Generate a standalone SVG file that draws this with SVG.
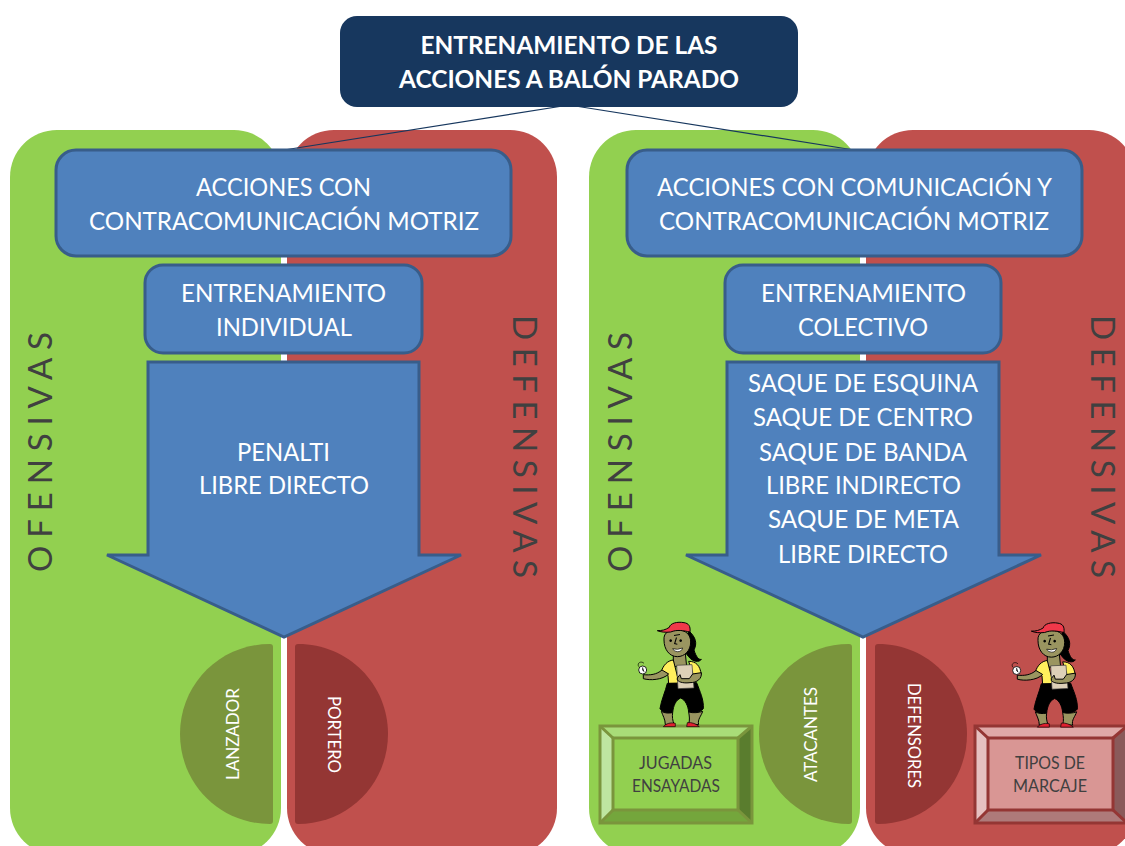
<svg xmlns="http://www.w3.org/2000/svg" xmlns:xlink="http://www.w3.org/1999/xlink" width="1125" height="846" viewBox="0 0 1125 846">
<style>
text{font-family:"Lato","Carlito","Open Sans",sans-serif;text-anchor:middle}
.w{fill:#fff;font-size:25.5px}
.b{fill:#fff;font-size:25.5px;font-weight:700}
.s{fill:#404040;font-size:16.5px}
.r{fill:#fff;font-size:16.5px}
.v{fill:#404040;font-size:33px}
.g{fill:#92D050}.d{fill:#C0504D}
.blue{fill:#4F81BD;stroke:#385D8A;stroke-width:3}
.hg{fill:#7A953C}.hr{fill:#943634}
.ol{stroke:#000;stroke-width:3;stroke-linejoin:round}
</style>
<defs>
<g id="fig">
<path class="ol" fill="#000" d="M296 92C318 112 322 130 312 150C318 170 326 180 334 178C328 188 308 186 296 170L280 150Z"/>
<path class="ol" fill="#9A9560" d="M250 160l36 0 4 40-40 0z"/>
<path class="ol" fill="#9A9560" d="M222 120C220 96 240 88 262 90C288 90 302 104 302 126C302 152 284 170 262 170C238 170 222 148 222 120Z"/>
<path fill="#000" d="M252 105l18-3v3l-18 3zM242 118a4 4 0 1 0 .1 0zM272 118a4 4 0 1 0 .1 0zM258 112l-6 20 10 2v-3l-6-1 5-17z"/>
<path fill="#fff" stroke="#000" stroke-width="2" d="M248 146q14 5 30-2q-4 12-16 11q-10 0-14-9z"/>
<path class="ol" fill="#F0384A" d="M202 92C216 92 226 90 238 82C240 70 262 64 282 68C296 70 302 78 300 96C280 92 262 88 242 96C226 98 212 96 202 92Z"/>
<path class="ol" fill="#FFEF5C" d="M214 214C220 196 232 182 250 180L268 252 236 252 234 226ZM296 184C318 184 330 196 334 224L312 232Z"/>
<path class="ol" fill="#000" d="M232 250L320 248C330 275 342 300 340 326C330 338 312 340 296 336C294 316 286 300 272 294C258 300 250 316 248 338C232 342 216 336 210 326C214 300 226 275 232 250Z"/>
<path class="ol" fill="#9A9560" d="M214 334C224 340 236 340 248 338C246 350 248 362 252 372L226 374C226 358 218 346 214 334ZM296 336C308 340 328 338 338 334C334 348 322 358 326 374L296 372C300 360 298 348 296 336Z"/>
<path fill="#E02030" stroke="#000" stroke-width="2" d="M220 380C226 372 242 366 256 370L256 380ZM290 380L292 368C304 366 320 372 328 380Z"/>
<path class="ol" fill="#9A9560" d="M160 224C180 226 200 224 216 210L236 222C218 240 180 242 160 236Z"/>
<path fill="#DDD0B8" stroke="#333" stroke-width="2" d="M260 196l46-2 6 70-48 2z"/>
<path class="ol" fill="#9A9560" d="M262 234l8-10 4 12 24 0 10-14 26-4C336 236 322 248 300 248C284 250 268 248 262 240Z"/>
<circle cx="158" cy="210" r="12" fill="#fff" stroke="#000" stroke-width="2.500"/>
<path fill="none" stroke="#000" stroke-width="2" d="M146 200c-6-12 8-18 16-10"/>
<path stroke="#000" stroke-width="2" d="M158 202v9l5 4"/>
</g>
</defs>
<g id="panel-izquierdo">
<rect class="g" x="10" y="130" width="271" height="725" rx="47"/>
<rect class="d" x="287" y="130" width="270" height="725" rx="47"/>
</g>
<g id="panel-derecho">
<rect class="g" x="589" y="130" width="271" height="725" rx="47"/>
<rect class="d" x="866" y="130" width="270" height="725" rx="47"/>
</g>
<g id="connectors" fill="none" stroke="#17375E" stroke-width="1.2">
<line x1="569" y1="105" x2="284" y2="150"/>
<line x1="569" y1="105" x2="854" y2="150"/>
</g>
<g id="titulo">
<rect x="340" y="16" width="458" height="91" rx="17" fill="#17375E"/>
<text class="b" x="569" y="54" textLength="297" lengthAdjust="spacingAndGlyphs">ENTRENAMIENTO DE LAS</text>
<text class="b" x="569" y="88" textLength="340" lengthAdjust="spacingAndGlyphs">ACCIONES A BALÓN PARADO</text>
</g>
<g id="ofensivas-1"><text class="v" transform="translate(52 452) rotate(-90)" textLength="240">OFENSIVAS</text></g>
<g id="defensivas-1"><text class="v" transform="translate(513 446.500) rotate(90)" textLength="263">DEFENSIVAS</text></g>
<g id="ofensivas-2"><text class="v" transform="translate(632 452) rotate(-90)" textLength="240">OFENSIVAS</text></g>
<g id="defensivas-2"><text class="v" transform="translate(1091 446.500) rotate(90)" textLength="263">DEFENSIVAS</text></g>
<g id="acciones-contra">
<rect class="blue" x="56" y="150" width="455" height="106" rx="20"/>
<text class="w" x="283.500" y="196" textLength="175" lengthAdjust="spacingAndGlyphs">ACCIONES CON</text>
<text class="w" x="284" y="230" textLength="390" lengthAdjust="spacingAndGlyphs">CONTRACOMUNICACIÓN MOTRIZ</text>
</g>
<g id="acciones-com">
<rect class="blue" x="627" y="150" width="455" height="106" rx="20"/>
<text class="w" x="854.500" y="196" textLength="395" lengthAdjust="spacingAndGlyphs">ACCIONES CON COMUNICACIÓN Y</text>
<text class="w" x="854" y="230" textLength="390" lengthAdjust="spacingAndGlyphs">CONTRACOMUNICACIÓN MOTRIZ</text>
</g>
<g id="individual">
<rect class="blue" x="145" y="265" width="277" height="88" rx="18"/>
<text class="w" x="283.500" y="302" textLength="205" lengthAdjust="spacingAndGlyphs">ENTRENAMIENTO</text>
<text class="w" x="284" y="336" textLength="136" lengthAdjust="spacingAndGlyphs">INDIVIDUAL</text>
</g>
<g id="colectivo">
<rect class="blue" x="725" y="265" width="276" height="88" rx="18"/>
<text class="w" x="863.500" y="302" textLength="205" lengthAdjust="spacingAndGlyphs">ENTRENAMIENTO</text>
<text class="w" x="863" y="336" textLength="130" lengthAdjust="spacingAndGlyphs">COLECTIVO</text>
</g>
<g id="flecha-1">
<polygon class="blue" points="148,362 419,362 419,555 461,555 284,637 107,555 148,555"/>
<text class="w" x="283.500" y="461" textLength="93" lengthAdjust="spacingAndGlyphs">PENALTI</text>
<text class="w" x="284" y="494" textLength="170" lengthAdjust="spacingAndGlyphs">LIBRE DIRECTO</text>
</g>
<g id="flecha-2">
<polygon class="blue" points="727,362 999,362 999,555 1041,555 863,637 686,555 727,555"/>
<text class="w" x="863" y="392" textLength="230" lengthAdjust="spacingAndGlyphs">SAQUE DE ESQUINA</text>
<text class="w" x="863" y="426" textLength="220" lengthAdjust="spacingAndGlyphs">SAQUE DE CENTRO</text>
<text class="w" x="863" y="461" textLength="208" lengthAdjust="spacingAndGlyphs">SAQUE DE BANDA</text>
<text class="w" x="863.500" y="494" textLength="195" lengthAdjust="spacingAndGlyphs">LIBRE INDIRECTO</text>
<text class="w" x="863.500" y="528" textLength="191" lengthAdjust="spacingAndGlyphs">SAQUE DE META</text>
<text class="w" x="863" y="563" textLength="170" lengthAdjust="spacingAndGlyphs">LIBRE DIRECTO</text>
</g>
<g id="lanzador">
<path class="hg" d="M270 644a3 3 0 0 1 3 3v174a3 3 0 0 1-3 3C220 824 180 784 180 734S220 644 270 644Z"/>
<text class="r" transform="translate(239 734) rotate(-90)" textLength="92" lengthAdjust="spacingAndGlyphs">LANZADOR</text>
</g>
<g id="portero">
<path class="hr" d="M298 644a3 3 0 0 0-3 3v174a3 3 0 0 0 3 3C348 824 388 784 388 734S348 644 298 644Z"/>
<text class="r" transform="translate(328 734.500) rotate(90)" textLength="77" lengthAdjust="spacingAndGlyphs">PORTERO</text>
</g>
<g id="atacantes">
<path class="hg" d="M849 644a3 3 0 0 1 3 3v174a3 3 0 0 1-3 3C799 824 759 784 759 734S799 644 849 644Z"/>
<text class="r" transform="translate(817 734.500) rotate(-90)" textLength="95" lengthAdjust="spacingAndGlyphs">ATACANTES</text>
</g>
<g id="defensores">
<path class="hr" d="M878 644a3 3 0 0 0-3 3v174a3 3 0 0 0 3 3C928 824 967 784 967 734S928 644 878 644Z"/>
<text class="r" transform="translate(908 735.500) rotate(90)" textLength="105" lengthAdjust="spacingAndGlyphs">DEFENSORES</text>
</g>
<g id="jugadas">
<rect x="600" y="726" width="152" height="97" fill="#92D050"/>
<polygon points="600,726 752,726 738,738 613,738" fill="#A9DC78"/>
<polygon points="600,726 613,738 613,810 600,823" fill="#BEE5A0"/>
<polygon points="752,726 738,738 738,810 752,823" fill="#5A7D2E"/>
<polygon points="600,823 613,810 738,810 752,823" fill="#74A63C"/>
<g fill="none" stroke="#7A953C" stroke-width="3"><rect x="600" y="726" width="152" height="97"/><rect x="613" y="738" width="125" height="72"/><path d="M600 726l13 12M752 726l-14 12M600 823l13-13M752 823l-14-13"/></g>
<text class="s" x="675.500" y="769" textLength="73" lengthAdjust="spacingAndGlyphs">JUGADAS</text>
<text class="s" x="676" y="792" textLength="88" lengthAdjust="spacingAndGlyphs">ENSAYADAS</text>
</g>
<g id="tipos">
<rect x="975" y="726" width="152" height="97" fill="#D99694"/>
<polygon points="975,726 1127,726 1113,738 988,738" fill="#E0A9A8"/>
<polygon points="975,726 988,738 988,810 975,823" fill="#E6C0C0"/>
<polygon points="1127,726 1113,738 1113,810 1127,823" fill="#8A5A5A"/>
<polygon points="975,823 988,810 1113,810 1127,823" fill="#AE7A7A"/>
<g fill="none" stroke="#943634" stroke-width="3"><rect x="975" y="726" width="152" height="97"/><rect x="988" y="738" width="125" height="72"/><path d="M975 726l13 12M1127 726l-14 12M975 823l13-13M1127 823l-14-13"/></g>
<text class="s" x="1050" y="769" textLength="70" lengthAdjust="spacingAndGlyphs">TIPOS DE</text>
<text class="s" x="1050" y="792" textLength="74" lengthAdjust="spacingAndGlyphs">MARCAJE</text>
</g>
<g id="figura-1"><use xlink:href="#fig" href="#fig" transform="translate(590 600) scale(.3333)"/></g>
<g id="figura-2"><use xlink:href="#fig" href="#fig" transform="translate(964 600.500) scale(.3333)"/></g>
</svg>
